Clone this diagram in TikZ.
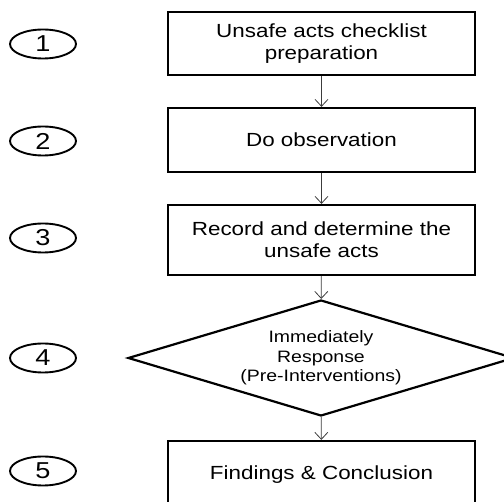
\documentclass[tikz,border=0pt]{standalone}
\usepackage{fontspec}
\setmainfont{Liberation Sans}[FakeStretch=1.18]
\usetikzlibrary{shapes.geometric,arrows.meta}
\begin{document}
\begin{tikzpicture}[x=1pt,y=-1pt,
  stepbox/.style={draw, line width=2.2pt, minimum width=307pt, inner sep=0pt, align=center, font=\fontsize{19}{22}\selectfont},
  decbox/.style={draw, diamond, line width=2.2pt, aspect=3.33, minimum width=386pt, minimum height=116pt, inner sep=0pt, align=center, font=\fontsize{16.5}{19.5}\selectfont},
  numoval/.style={draw, ellipse, line width=1.9pt, minimum width=66pt, minimum height=29pt, inner sep=0pt, font=\fontsize{23}{24}\selectfont},
  arr/.style={draw={rgb,255:red,60;green,60;blue,60}, line width=0.8pt, -{Straight Barb[length=7pt,width=13pt,line width=0.8pt]}}
]
\useasboundingbox (0,0) rectangle (504,502);
\clip (0,0) rectangle (504,502);
\node[stepbox, minimum height=63pt] (b1) at (321.5,43.5) {Unsafe acts checklist\\preparation};
\node[stepbox, minimum height=64pt] (b2) at (321.5,140) {Do observation};
\node[stepbox, minimum height=70pt] (b3) at (321.5,240) {Record and determine the\\unsafe acts};
\node[decbox] (d4) at (321,358) {Immediately\\Response\\(Pre-Interventions)};
\node[stepbox, minimum height=68pt] (b5) at (321.5,475) {Findings \& Conclusion};
\node[numoval] (n1) at (43,44) {1};
\node[numoval] (n2) at (43,141) {2};
\node[numoval] (n3) at (43,238) {3};
\node[numoval] (n4) at (43,358) {4};
\node[numoval] (n5) at (43,471) {5};
\draw[arr] (b1) -- (b2);
\draw[arr] (b2) -- (b3);
\draw[arr] (b3) -- (d4);
\draw[arr] (d4) -- (b5);
\end{tikzpicture}
\end{document}
